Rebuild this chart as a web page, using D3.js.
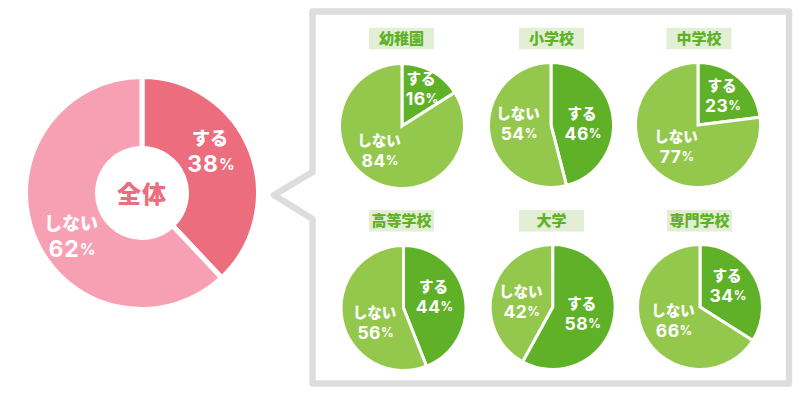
<!DOCTYPE html>
<html lang="ja"><head><meta charset="utf-8">
<script src="https://cdn.jsdelivr.net/npm/d3@7/dist/d3.min.js"></script>
<style>html,body{margin:0;background:#fff}svg{display:block}
text{font-family:"Noto Sans CJK JP","Noto Sans",sans-serif;font-weight:900;text-anchor:middle;dominant-baseline:central}
text.num{font-family:Inter,"Noto Sans",sans-serif;font-weight:700}</style>
</head><body><svg width="800" height="400"></svg>
<script>
const overallTitle = "全体";
const overallYes = 38;
const overallNo = 62;
const schools = ["幼稚園","小学校","中学校","高等学校","大学","専門学校"];
const yesValues = [16,46,23,44,58,34];
const noValues = [84,54,77,56,42,66];
const yesLabel = "する";
const noLabel = "しない";

// layout (separate from the data)
const mainPie = {cx:142, cy:193, r:116.5, inner:44.5, yes:[68,-56], no:[-71,29]};
const smallR = 62.5;
const smallLayout = [
 {cx:402,cy:126,yes:[19,-49],no:[-23,13],tx:401.5},
 {cx:551,cy:125,yes:[31,-13],no:[-33,-13],tx:551.5},
 {cx:698,cy:125,yes:[24,-41],no:[-22,10],tx:699},
 {cx:403.5,cy:308,yes:[30,-23],no:[-29,3],tx:401.5},
 {cx:552.7,cy:307,yes:[29,-5],no:[-32,-17],tx:551.5},
 {cx:700,cy:307,yes:[27,-33],no:[-27,2],tx:699.5}
];
const titleW = 65, titleH = 21.5;
const svg = d3.select("svg");
const frame = d3.path();
frame.moveTo(312.5,172); frame.lineTo(312.5,11.5); frame.lineTo(789,11.5); frame.lineTo(789,383.5); frame.lineTo(312.5,383.5);
frame.lineTo(312.5,219); frame.lineTo(274,195); frame.closePath();
svg.append("path").attr("d",frame.toString()).attr("fill","#fff").attr("stroke","#dddddd").attr("stroke-width",6.5).attr("stroke-linejoin","round");

function drawPie(g, values, colors, r, inner, gap){
  const pie = d3.pie().sort(null)(values);
  const arc = d3.arc().innerRadius(inner).outerRadius(r);
  g.selectAll("path").data(pie).join("path").attr("d",arc)
   .attr("fill",(d,i)=>colors[i]).attr("stroke","#fff").attr("stroke-width",gap);
}
function drawLabel(g, name, value, pos, nameSize, numSize, pctSize, dy, spacing){
  g.append("text").attr("x",pos[0]).attr("y",pos[1]).attr("fill","#fff").attr("font-size",nameSize).text(name);
  const t = g.append("text").attr("class","num").attr("x",pos[0]+1).attr("y",pos[1]+dy).attr("fill","#fff").attr("font-size",numSize);
  t.append("tspan").attr("letter-spacing",spacing).text(value);
  t.append("tspan").attr("font-size",pctSize).text("%");
}
const gm = svg.append("g").attr("transform",`translate(${mainPie.cx},${mainPie.cy})`);
drawPie(gm,[overallYes,overallNo],["#ec6d7e","#f7a0b4"],mainPie.r,mainPie.inner,5);
gm.append("text").attr("x",0).attr("y",-1).attr("fill","#ec6d7e").attr("font-size",24).attr("letter-spacing",1).text(overallTitle);
drawLabel(gm,yesLabel,overallYes,mainPie.yes,18,23,15.5,27,1);
drawLabel(gm,noLabel,overallNo,mainPie.no,18,23,15.5,27,1);

schools.forEach((s,i)=>{
  const L = smallLayout[i];
  const g = svg.append("g").attr("transform",`translate(${L.cx},${L.cy})`);
  drawPie(g,[yesValues[i],noValues[i]],["#5fb228","#94c84d"],smallR,0,3);
  drawLabel(g,yesLabel,yesValues[i],L.yes,14.5,17.5,12.5,21,0.5);
  drawLabel(g,noLabel,noValues[i],L.no,14.5,17.5,12.5,21,0.5);
  const ty = L.cy<200 ? 38.5 : 220.8;
  svg.append("rect").attr("x",L.tx-titleW/2).attr("y",ty-titleH/2).attr("width",titleW).attr("height",titleH).attr("fill","#e2efd5");
  svg.append("text").attr("x",L.tx).attr("y",ty-1).attr("fill","#5fb228").attr("font-size",15).text(s);
});
</script></body></html>
